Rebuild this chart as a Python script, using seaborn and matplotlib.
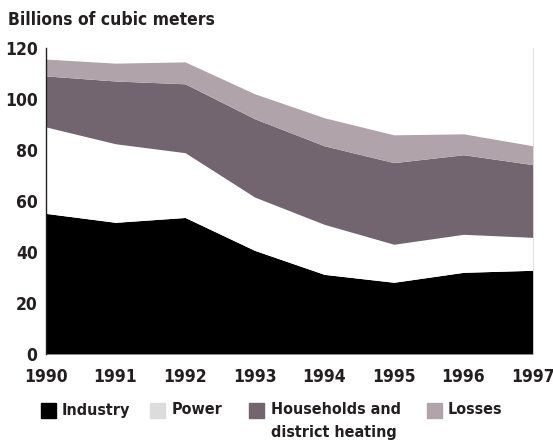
import matplotlib
matplotlib.use("Agg")
import matplotlib.pyplot as plt
from matplotlib.patches import Rectangle
import seaborn as sns

years = [1990, 1991, 1992, 1993, 1994, 1995, 1996, 1997]
industry = [55.1, 51.6, 53.5, 40.6, 31.2, 28.1, 32.0, 32.8]
power = [33.9, 30.8, 25.4, 20.9, 19.6, 14.9, 14.9, 12.9]
households = [20.0, 24.6, 27.0, 30.7, 30.8, 32.0, 31.2, 28.5]
losses = [6.6, 7.0, 8.6, 9.8, 11.0, 10.9, 8.2, 7.4]

series_names = ["Industry", "Power", "Households and\ndistrict heating", "Losses"]
fill_colors = ["#000000", "#ffffff", "#726570", "#b0a4aa"]
legend_colors = ["#000000", "#dcdcdc", "#726570", "#b0a4aa"]

sns.set_style("white")
plt.rcParams["font.family"] = ["DejaVu Sans"]
plt.rcParams["font.stretch"] = "condensed"
plt.rcParams["font.weight"] = "bold"

fig = plt.figure(figsize=(5.53, 4.43), dpi=100)
ax = fig.add_axes([0.083, 0.201, 0.881, 0.691])

ax.stackplot(years, industry, power, households, losses,
             colors=fill_colors, linewidth=0)

ax.set_xlim(1990, 1997)
ax.set_ylim(0, 120)
ax.set_yticks([0, 20, 40, 60, 80, 100, 120])
ax.set_xticks(years)
ax.tick_params(axis="both", length=0, labelsize=12.5, colors="#231f20")
ax.tick_params(axis="y", pad=6)
ax.tick_params(axis="x", pad=10)
for lab in ax.get_xticklabels() + ax.get_yticklabels():
    lab.set_fontweight("bold")
    lab.set_fontstretch("condensed")

for s in ["top", "bottom"]:
    ax.spines[s].set_visible(False)
ax.spines["left"].set_color("#231f20")
ax.spines["left"].set_linewidth(1.0)
ax.spines["right"].set_color("#dddddd")
ax.spines["right"].set_linewidth(0.6)

fig.text(0.014, 0.955, "Billions of cubic meters", fontsize=12.5, fontweight="bold",
         fontstretch="condensed", color="#231f20", va="center", ha="left")

# legend drawn by hand so the swatch lines up with the first text line
sw_x = [41, 150, 249, 427]
tx_x = [62, 172, 271, 448]
W, H = 553, 443
for name, col, sx, tx in zip(series_names, legend_colors, sw_x, tx_x):
    fig.patches.append(Rectangle((sx / W, 1 - 418 / H), 15 / W, 15 / H,
                                 transform=fig.transFigure, color=col))
    lines = name.split("\n")
    fig.text(tx / W, 1 - 410 / H, lines[0], fontsize=11.5, fontweight="bold",
             fontstretch="condensed", color="#231f20", va="center", ha="left")
    if len(lines) > 1:
        fig.text(tx / W, 1 - 432 / H, lines[1], fontsize=11.5, fontweight="bold",
                 fontstretch="condensed", color="#231f20", va="center", ha="left")

fig.savefig("out.png", dpi=100)
